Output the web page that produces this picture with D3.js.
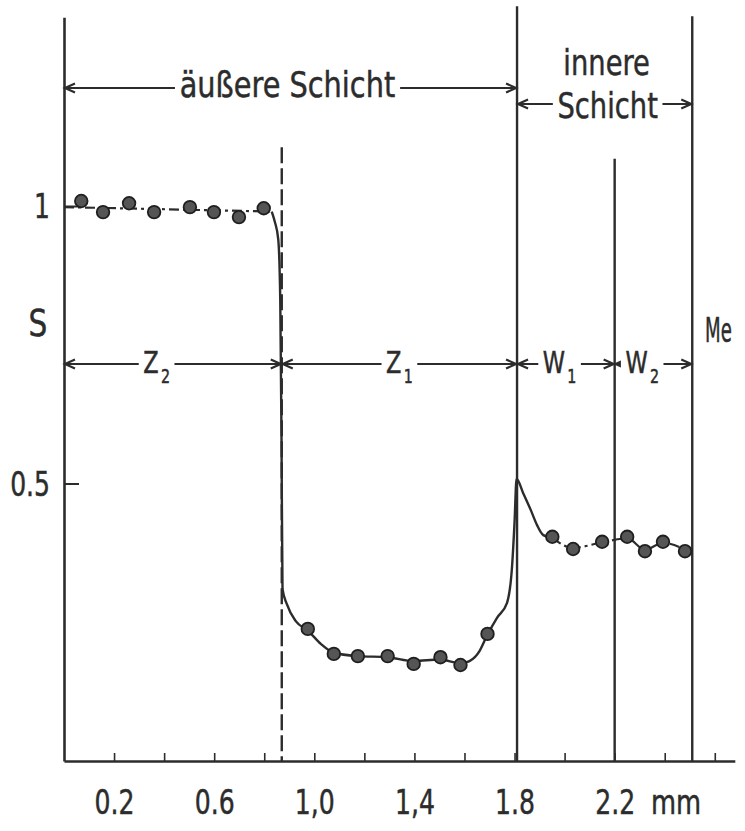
<!DOCTYPE html>
<html>
<head>
<meta charset="utf-8">
<script src="https://cdn.jsdelivr.net/npm/d3@7"></script>
<style>
  body { margin: 0; background: #fff; }
  svg text { font-family: "DejaVu Sans", sans-serif; fill: #2c2c2c; stroke: #2c2c2c; stroke-width: 0.5px; }
  .ink { stroke: #2c2c2c; fill: none; }
</style>
</head>
<body>
<div id="chart"></div>
<script>
// measured S values (dots), x in mm
var topDots    = [[0.069, 1.009], [0.156, 0.989], [0.260, 1.005], [0.360, 0.989],
                  [0.503, 0.998], [0.599, 0.989], [0.699, 0.980], [0.798, 0.996]];
var bottomDots = [[0.974, 0.238], [1.078, 0.193], [1.174, 0.189], [1.293, 0.189],
                  [1.397, 0.175], [1.504, 0.187], [1.584, 0.173], [1.692, 0.229]];
var innerDots  = [[1.951, 0.404], [2.034, 0.382], [2.150, 0.395], [2.250, 0.404],
                  [2.321, 0.378], [2.393, 0.395], [2.481, 0.378]];

// drawn profile curve
var curveTop = [[0, 0.998], [0.83, 0.99]];
var curveLow = [[0.83, 0.99], [0.842, 0.972], [0.856, 0.94], [0.864, 0.83], [0.869, 0.58],
                [0.873, 0.31], [0.89, 0.283], [0.926, 0.252], [0.974, 0.235], [1.026, 0.211],
                [1.078, 0.195], [1.174, 0.189], [1.293, 0.187], [1.397, 0.180], [1.50, 0.183],
                [1.584, 0.176], [1.62, 0.18], [1.66, 0.198], [1.69, 0.226], [1.73, 0.258],
                [1.77, 0.285], [1.79, 0.35], [1.80, 0.43], [1.808, 0.508], [1.835, 0.482],
                [1.865, 0.452], [1.89, 0.425], [1.915, 0.407], [1.951, 0.402]];
var curveInner = [[1.951, 0.402], [2.034, 0.384], [2.15, 0.394], [2.25, 0.401],
                  [2.321, 0.381], [2.393, 0.393], [2.49, 0.379]];

// zone boundaries (mm) and labels
var zoneEdges = [0, 0.87, 1.81, 2.2, 2.51];
var zoneNames = ["Z", "Z", "W", "W"];
var zoneSubs  = ["2", "1", "1", "2"];
var layerNames = ["äußere Schicht", "innere Schicht"];

var xTicks = [0.2, 0.4, 0.6, 0.8, 1.0, 1.2, 1.4, 1.6, 1.8, 2.0, 2.2, 2.4, 2.6];
var xTickLabels = ["0.2", "", "0.6", "", "1,0", "", "1,4", "", "1.8", "", "2.2", "", ""];
var yTicks = [0.5, 1];
var yTickLabels = ["0.5", "1"];

var W = 745, H = 831;
var svg = d3.select("#chart").append("svg").attr("width", W).attr("height", H);

var x = d3.scaleLinear().domain([0, 2.68]).range([64, 64 + 2.68 * 250.3]);
var y = d3.scaleLinear().domain([0, 1.34]).range([761, 761 - 1.34 * 555]);

// narrow the lettering like the condensed face of the original
function squeeze(sel, k) {
    sel.each(function () {
        var t = d3.select(this);
        var x0 = +t.attr("x") || 0;
        t.attr("x", 0).attr("transform", "translate(" + x0 + ",0) scale(" + k + ",1)");
    });
}

function arrow(g, x1, x2, yy) {
    var h = 11, w = 4.5;
    g.append("line").attr("class", "ink").attr("x1", x1).attr("x2", x2)
        .attr("y1", yy).attr("y2", yy).attr("stroke-width", 2);
    g.append("path").attr("class", "ink").attr("stroke-width", 2.2)
        .attr("d", "M" + (x1 + h) + "," + (yy - w) + "L" + (x1 + 1) + "," + yy + "L" + (x1 + h) + "," + (yy + w));
    g.append("path").attr("class", "ink").attr("stroke-width", 2.2)
        .attr("d", "M" + (x2 - h) + "," + (yy - w) + "L" + (x2 - 1) + "," + yy + "L" + (x2 - h) + "," + (yy + w));
}

// label (optional subscript) on a white patch so the arrow line breaks around it
function label(g, cx, baseline, txt, size, k, sub) {
    var lg = g.append("g");
    var bg = lg.append("rect").attr("fill", "#fff");
    var t = lg.append("text").attr("x", 0).attr("y", baseline)
        .style("font-size", size + "px").text(txt);
    var w = t.node().getComputedTextLength();
    var bb = t.node().getBBox();
    var total = w;
    if (sub) {
        var s = lg.append("text").attr("x", w + 3).attr("y", baseline + 10)
            .style("font-size", Math.round(size * 0.62) + "px").text(sub);
        total = w + 3 + s.node().getComputedTextLength();
    }
    bg.attr("x", -6).attr("y", bb.y + 4).attr("width", total + 12).attr("height", bb.height - 8);
    lg.attr("transform", "translate(" + (cx - k * total / 2) + ",0) scale(" + k + ",1)");
}

// axes
var xAxis = d3.axisBottom(x).tickValues(xTicks)
    .tickFormat(function (d, i) { return xTickLabels[i]; })
    .tickSizeInner(-8).tickSizeOuter(0).tickPadding(29);
var gx = svg.append("g").attr("transform", "translate(0," + y(0) + ")").call(xAxis);
gx.select(".domain").attr("stroke", "#2c2c2c").attr("stroke-width", 2.6);
gx.selectAll(".tick line").attr("stroke", "#2c2c2c").attr("stroke-width", 1.6);
gx.selectAll(".tick text").style("font-size", "34px").attr("fill", "#2c2c2c")
    .call(squeeze, 0.74);

var yAxis = d3.axisLeft(y).tickValues(yTicks)
    .tickFormat(function (d, i) { return yTickLabels[i]; })
    .tickSizeInner(-15).tickSizeOuter(0).tickPadding(14);
var gy = svg.append("g").attr("transform", "translate(" + x(0) + ",0)").call(yAxis);
gy.select(".domain").attr("stroke", "#2c2c2c").attr("stroke-width", 2.6);
gy.selectAll(".tick line").attr("stroke", "#2c2c2c").attr("stroke-width", 2);
gy.selectAll(".tick text").style("font-size", "33px").attr("fill", "#2c2c2c")
    .attr("dy", "0.36em").call(squeeze, 0.76);

// boundary lines
var bounds = [
    { at: zoneEdges[1], top: 1.106, dash: "16,5" },
    { at: zoneEdges[2], top: 1.36, dash: null },
    { at: zoneEdges[3], top: 1.085, dash: null },
    { at: zoneEdges[4], top: 1.342, dash: null }
];
svg.selectAll(".bound").data(bounds).enter().append("line")
    .attr("class", "bound ink")
    .attr("x1", function (d) { return x(d.at); })
    .attr("x2", function (d) { return x(d.at); })
    .attr("y1", function (d) { return y(d.top); })
    .attr("y2", y(0))
    .attr("stroke-width", 2.4)
    .attr("stroke-dasharray", function (d) { return d.dash; });

// profile curve
var line = d3.line().x(function (d) { return x(d[0]); })
    .y(function (d) { return y(d[1]); }).curve(d3.curveMonotoneX);
svg.append("path").datum(curveTop).attr("class", "ink").attr("d", line)
    .attr("stroke-width", 2.2).attr("stroke-dasharray", "10,4,3,4");
svg.append("path").datum(curveLow).attr("class", "ink").attr("d", line)
    .attr("stroke-width", 2.4);
svg.append("path").datum(curveInner).attr("class", "ink").attr("d", line)
    .attr("stroke-width", 2.2).attr("stroke-dasharray", "10,4,3,4");

// dots
var dots = topDots.concat(bottomDots, innerDots);
svg.selectAll(".dot").data(dots).enter().append("circle")
    .attr("class", "dot")
    .attr("cx", function (d) { return x(d[0]); })
    .attr("cy", function (d) { return y(d[1]); })
    .attr("r", 6.3)
    .attr("fill", "#555")
    .attr("stroke", "#1f1f1f")
    .attr("stroke-width", 1.8);

// layer annotations at the top
var gl = svg.append("g");
arrow(gl, x(zoneEdges[0]), x(zoneEdges[2]), 88);
label(gl, (x(zoneEdges[0]) + x(zoneEdges[2])) / 2 - 3, 97, layerNames[0], 36, 0.8);

var gi = svg.append("g");
var innerMid = (x(zoneEdges[2]) + x(zoneEdges[4])) / 2;
arrow(gi, x(zoneEdges[2]), x(zoneEdges[4]), 104);
label(gi, innerMid + 3, 118, layerNames[1].split(" ")[1], 36, 0.76);
gi.append("text").attr("x", innerMid + 2).attr("y", 75).attr("text-anchor", "middle")
    .style("font-size", "36px").text(layerNames[1].split(" ")[0]).call(squeeze, 0.76);

// zone arrows
var zoneLabelAt = [0.37, 1.34, 1.98, 2.31];
var gz = svg.append("g");
zoneNames.forEach(function (n, i) {
    var g = gz.append("g");
    arrow(g, x(zoneEdges[i]), x(zoneEdges[i + 1]), 364);
    label(g, x(zoneLabelAt[i]), 373, n, 30, 0.75, zoneSubs[i]);
});

// axis names
svg.append("text").attr("x", 38).attr("y", y(0.765)).attr("text-anchor", "middle")
    .style("font-size", "37px").text("S").call(squeeze, 0.8);
svg.append("text").attr("x", 705).attr("y", y(0.755))
    .style("font-size", "33px").text("Me").call(squeeze, 0.55);
svg.append("text").attr("x", x(2.445)).attr("y", 814).attr("text-anchor", "middle")
    .style("font-size", "33px").text("mm").call(squeeze, 0.78);
</script>
</body>
</html>
